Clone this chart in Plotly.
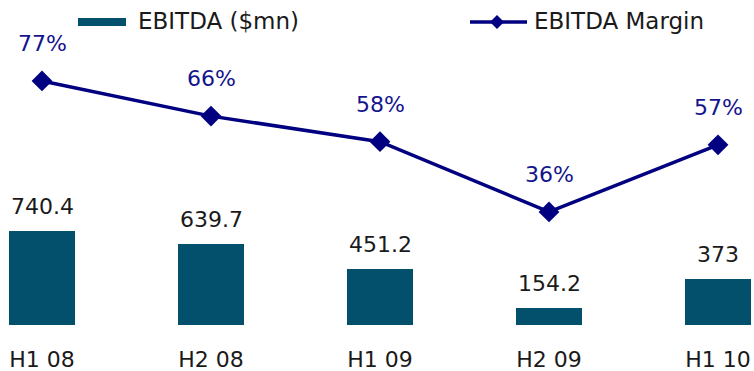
import plotly.graph_objects as go

# Half-year periods and the two measures plotted against them
periods = ["H1 08", "H2 08", "H1 09", "H2 09", "H1 10"]
ebitda = [740.4, 639.7, 451.2, 154.2, 373]
margin = [77, 66, 58, 36, 57]
ebitda_labels = ["740.4", "639.7", "451.2", "154.2", "373"]
margin_labels = ["77%", "66%", "58%", "36%", "57%"]

BAR_COLOR = "#02506b"
LINE_COLOR = "#000080"
PCT_COLOR = "#14148c"
TEXT_COLOR = "#1a1a1a"
FONT = "DejaVu Sans"
FS = 22

fig = go.Figure()

fig.add_trace(go.Bar(
    x=periods, y=ebitda, name="EBITDA ($mn)",
    marker=dict(color=BAR_COLOR, line=dict(width=0)),
    width=0.385, yaxis="y", showlegend=False,
))

fig.add_trace(go.Scatter(
    x=periods, y=margin, name="EBITDA Margin", mode="lines+markers",
    line=dict(color=LINE_COLOR, width=3.5),
    marker=dict(symbol="diamond", size=16, color=LINE_COLOR),
    yaxis="y2", showlegend=False,
))

annotations = []
for p, v, t in zip(periods, ebitda, ebitda_labels):
    annotations.append(dict(
        x=p, y=v, xref="x", yref="y", text=t, showarrow=False,
        yanchor="bottom", yshift=10,
        font=dict(family=FONT, size=FS, color=TEXT_COLOR),
    ))
for p, v, t in zip(periods, margin, margin_labels):
    annotations.append(dict(
        x=p, y=v, xref="x", yref="y2", text=t, showarrow=False,
        yanchor="bottom", yshift=23,
        font=dict(family=FONT, size=FS, color=PCT_COLOR),
    ))

# Legend drawn by hand: wide bar swatch and a line swatch with a diamond
W, H = 754, 325
def px(x):
    return x / W
def py(y):
    return 1 - y / H

shapes = [
    dict(type="rect", xref="paper", yref="paper",
         x0=px(78), x1=px(126), y0=py(26), y1=py(18),
         fillcolor=BAR_COLOR, line=dict(width=0)),
    dict(type="line", xref="paper", yref="paper",
         x0=px(470), x1=px(527), y0=py(22), y1=py(22),
         line=dict(color=LINE_COLOR, width=3.5)),
    dict(type="path", xref="paper", yref="paper",
         path=f"M {px(490)} {py(22)} L {px(497)} {py(15)} L {px(504)} {py(22)} L {px(497)} {py(29)} Z",
         fillcolor=LINE_COLOR, line=dict(width=0)),
]
annotations += [
    dict(x=px(136), y=py(21), xref="paper", yref="paper", text="EBITDA ($mn)",
         showarrow=False, xanchor="left", yanchor="middle",
         font=dict(family=FONT, size=FS + 1, color=TEXT_COLOR)),
    dict(x=px(532), y=py(21), xref="paper", yref="paper", text="EBITDA Margin",
         showarrow=False, xanchor="left", yanchor="middle",
         font=dict(family=FONT, size=FS + 1, color=TEXT_COLOR)),
]

fig.update_layout(
    width=754, height=371,
    margin=dict(l=0, r=0, t=0, b=46),
    paper_bgcolor="white", plot_bgcolor="white",
    font=dict(family=FONT, size=FS, color=TEXT_COLOR),
    xaxis=dict(type="category", range=[-0.2485, 4.213], showgrid=False,
               showline=False, zeroline=False, ticks="",
               ticklabelstandoff=19,
               tickfont=dict(family=FONT, size=FS, color=TEXT_COLOR)),
    yaxis=dict(range=[25, 2498], visible=False, showgrid=False),
    yaxis2=dict(range=[0.6, 102.35], overlaying="y", side="right",
                visible=False, showgrid=False),
    shapes=shapes, annotations=annotations,
    bargap=0,
)

fig.write_html("out.html")
